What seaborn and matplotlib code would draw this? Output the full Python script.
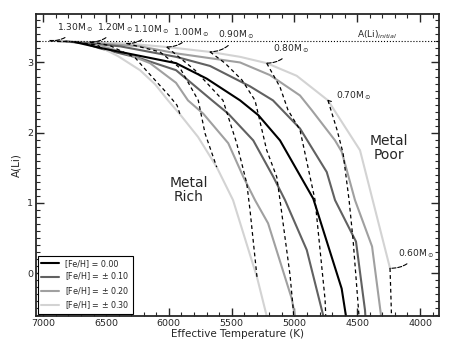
import matplotlib
matplotlib.use("Agg")
import matplotlib.pyplot as plt
import seaborn as sns
from matplotlib.ticker import MultipleLocator
from matplotlib.lines import Line2D

sns.set_style("ticks")
plt.rcParams["font.family"] = ["DejaVu Sans"]

# Li isochrone-like curves, one per [Fe/H] (Teff in K, A(Li))
teff_m03 = [6947, 6628, 6336, 6017, 5672, 5433, 5221, 4982, 4733, 4478, 4239]
ali_m03 = [3.31, 3.29, 3.27, 3.22, 3.15, 3.08, 2.99, 2.81, 2.46, 1.75, 0.07]

teff_m02 = [6883, 6548, 6230, 5943, 5433, 5195, 4956, 4862, 4677, 4624, 4518, 4382, 4310, 4290]
ali_m02 = [3.30, 3.27, 3.23, 3.13, 3.00, 2.82, 2.53, 2.32, 1.89, 1.73, 1.04, 0.38, -0.61, -0.88]

teff_m01 = [6819, 6389, 5943, 5672, 5354, 5171, 4956, 4743, 4677, 4510, 4438, 4426]
ali_m01 = [3.30, 3.23, 3.08, 2.95, 2.66, 2.46, 2.06, 1.44, 1.04, 0.45, -0.53, -0.88]

teff_p00 = [6748, 6527, 5943, 5699, 5433, 5288, 5115, 4850, 4624, 4547]
ali_p00 = [3.29, 3.20, 2.99, 2.77, 2.46, 2.25, 1.89, 1.06, -0.22, -1.10]

teff_p01 = [6668, 6548, 6230, 5943, 5656, 5527, 5328, 5168, 5075, 4902, 4770, 4756]
ali_p01 = [3.27, 3.20, 3.06, 2.89, 2.46, 2.27, 1.89, 1.37, 1.04, 0.33, -0.61, -0.88]

teff_p02 = [6572, 6389, 6150, 5943, 5848, 5726, 5527, 5407, 5314, 5210, 5022, 4996, 4980]
ali_p02 = [3.25, 3.16, 2.99, 2.71, 2.46, 2.27, 1.85, 1.37, 1.04, 0.71, -0.36, -0.61, -0.88]

teff_p03 = [6548, 6405, 6230, 6110, 6007, 5911, 5768, 5619, 5489, 5298, 5221, 5195]
ali_p03 = [3.22, 3.09, 2.89, 2.69, 2.46, 2.26, 1.94, 1.51, 1.04, -0.06, -0.61, -0.88]

# constant-mass tracks (dashed)
teff_130 = [6947, 6883, 6819, 6748, 6668, 6572, 6548]
ali_130 = [3.31, 3.30, 3.30, 3.29, 3.27, 3.25, 3.22]
teff_120 = [6628, 6548, 6469, 6389, 6270, 6182, 5999, 5935, 5911]
ali_120 = [3.29, 3.27, 3.24, 3.17, 3.07, 2.89, 2.53, 2.39, 2.26]
teff_110 = [6336, 6071, 5911, 5766, 5712, 5619]
ali_110 = [3.27, 3.15, 2.92, 2.46, 1.99, 1.51]
teff_100 = [6017, 5792, 5569, 5460, 5380, 5354, 5298]
ali_100 = [3.22, 2.89, 2.46, 1.85, 1.28, 0.90, -0.06]
teff_090 = [5672, 5553, 5418, 5314, 5221, 5141, 5115, 5035, 5009, 5000]
ali_090 = [3.15, 2.99, 2.75, 2.46, 1.75, 1.37, 1.04, -0.03, -0.53, -0.88]
teff_080 = [5221, 5115, 5051, 4956, 4836, 4796, 4756, 4745]
ali_080 = [2.99, 2.65, 2.32, 2.04, 1.04, 0.33, -0.38, -0.88]
teff_070 = [4733, 4661, 4613, 4565, 4533, 4486, 4478]
ali_070 = [2.46, 2.04, 1.71, 1.04, 0.47, -0.61, -0.88]
teff_060 = [4239, 4231, 4223]
ali_060 = [0.07, -0.38, -0.88]

mass_labels = ["1.30", "1.20", "1.10", "1.00", "0.90", "0.80", "0.70", "0.60"]
label_teff = [6891, 6572, 6286, 5967, 5609, 5171, 4669, 4175]
label_ali = [3.50, 3.50, 3.47, 3.43, 3.39, 3.20, 2.53, 0.28]

ali_initial = 3.3
gray = {0.3: "#d3d3d3", 0.2: "#a0a0a0", 0.1: "#616161", 0.0: "black"}

fig = plt.figure(figsize=(4.57, 3.43), dpi=100)
ax = fig.add_axes([0.0788, 0.0787, 0.8818, 0.8805])

curves = [(teff_m03, ali_m03, 0.3), (teff_m02, ali_m02, 0.2), (teff_m01, ali_m01, 0.1),
          (teff_p01, ali_p01, 0.1), (teff_p02, ali_p02, 0.2), (teff_p03, ali_p03, 0.3),
          (teff_p00, ali_p00, 0.0)]
for t, a, f in curves:
    sns.lineplot(x=t, y=a, sort=False, estimator=None, color=gray[f], lw=1.5, ax=ax)

tracks = [(teff_130, ali_130), (teff_120, ali_120), (teff_110, ali_110), (teff_100, ali_100),
          (teff_090, ali_090), (teff_080, ali_080), (teff_070, ali_070), (teff_060, ali_060)]
for t, a in tracks:
    sns.lineplot(x=t, y=a, sort=False, estimator=None, color="black", lw=0.9, ax=ax)
    ax.lines[-1].set_dashes([3, 2.5])

ax.axhline(ali_initial, color="black", ls=":", lw=0.8)
ax.text(4503, 3.40, r"A(Li)$_{initial}$", fontsize=6.5, va="center", ha="left")

for lab, lt, la, (t, a) in zip(mass_labels, label_teff, label_ali, tracks):
    ax.annotate(lab + r"M$_\odot$", xy=(t[0], a[0]), xytext=(lt, la), fontsize=6.6,
                va="center", ha="left",
                arrowprops=dict(arrowstyle="-", ls="--", lw=0.8, color="black",
                                connectionstyle="arc3,rad=-0.3", shrinkA=1, shrinkB=0))

ax.text(5840, 1.18, "Metal\nRich", fontsize=10, ha="center", va="center", linespacing=1.0)
ax.text(4247, 1.78, "Metal\nPoor", fontsize=10, ha="center", va="center", linespacing=1.0)

ax.set_xlim(7058, 3849)
ax.set_ylim(-0.61, 3.69)
ax.xaxis.set_major_locator(MultipleLocator(500))
ax.xaxis.set_minor_locator(MultipleLocator(100))
ax.yaxis.set_major_locator(MultipleLocator(1))
ax.yaxis.set_minor_locator(MultipleLocator(0.1))
ax.tick_params(which="both", direction="in", top=True, right=True, labelsize=6.8)
ax.tick_params(axis="x", which="both", pad=2)
ax.tick_params(axis="y", which="both", pad=2)
ax.tick_params(which="major", length=6, width=1)
ax.tick_params(which="minor", length=3, width=0.8)
for s in ax.spines.values():
    s.set_linewidth(1.3)
ax.set_xlabel("Effective Temperature (K)", fontsize=7.5, labelpad=1)
ax.set_ylabel("A(Li)", fontsize=7.5, labelpad=4)

handles = [Line2D([], [], color=gray[0.0], lw=1.5),
           Line2D([], [], color=gray[0.1], lw=1.5),
           Line2D([], [], color=gray[0.2], lw=1.5),
           Line2D([], [], color=gray[0.3], lw=1.5)]
labels = ["[Fe/H] = 0.00", r"[Fe/H] = $\pm$ 0.10", r"[Fe/H] = $\pm$ 0.20", r"[Fe/H] = $\pm$ 0.30"]
leg = ax.legend(handles, labels, loc="lower left", fontsize=5.8, fancybox=False,
                edgecolor="black", framealpha=1, borderaxespad=0.3, handlelength=2.2,
                labelspacing=0.3, borderpad=0.35)
leg.get_frame().set_linewidth(0.8)

fig.savefig("out.png", dpi=100)
